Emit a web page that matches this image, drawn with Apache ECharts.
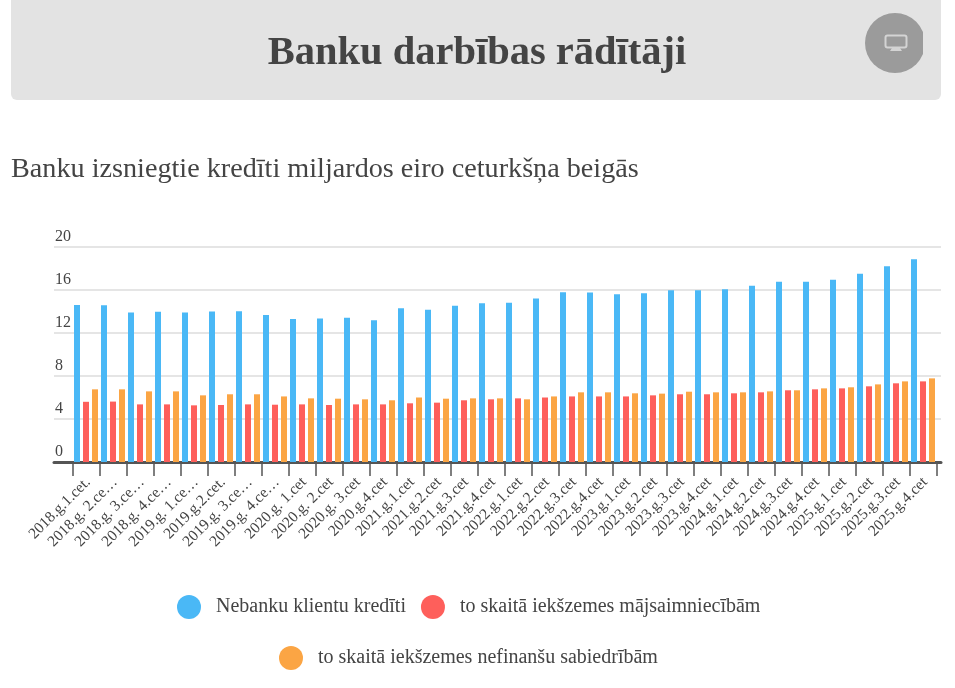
<!DOCTYPE html>
<html>
<head>
<meta charset="utf-8">
<style>
  html, body { margin: 0; padding: 0; background: #fff; }
  #chart { width: 955px; height: 688px; }
</style>
<script src="https://cdn.jsdelivr.net/npm/echarts@6/dist/echarts.min.js"></script>
</head>
<body>
<div id="chart"></div>
<script>
const pageTitle = "Banku darbības rādītāji";
const chartTitle = "Banku izsniegtie kredīti miljardos eiro ceturkšņa beigās";

const categories = [
  "2018.g.1.cet.", "2018.g. 2.ce…", "2018.g. 3.ce…", "2018.g. 4.ce…",
  "2019.g. 1.ce…", "2019.g.2.cet.", "2019.g. 3.ce…", "2019.g. 4.ce…",
  "2020.g. 1.cet", "2020.g. 2.cet", "2020.g. 3.cet", "2020.g.4.cet",
  "2021.g.1.cet", "2021.g.2.cet", "2021.g.3.cet", "2021.g.4.cet",
  "2022.g.1.cet", "2022.g.2.cet", "2022.g.3.cet", "2022.g.4.cet",
  "2023.g.1.cet", "2023.g.2.cet", "2023.g.3.cet", "2023.g.4.cet",
  "2024.g.1.cet", "2024.g.2.cet", "2024.g.3.cet", "2024.g.4.cet",
  "2025.g.1.cet", "2025.g.2.cet", "2025.g.3.cet", "2025.g.4.cet"
];
const clientLoans = [
  14.6, 14.57, 13.9, 13.98, 13.9, 14.0, 14.02, 13.67,
  13.3, 13.36, 13.43, 13.18, 14.3, 14.17, 14.54, 14.76,
  14.82, 15.22, 15.78, 15.76, 15.6, 15.69, 15.97, 15.97,
  16.06, 16.4, 16.77, 16.77, 16.96, 17.52, 18.2, 18.85
];
const householdLoans = [
  5.6, 5.62, 5.36, 5.36, 5.27, 5.3, 5.36, 5.33,
  5.36, 5.3, 5.36, 5.36, 5.46, 5.52, 5.74, 5.83,
  5.92, 6.0, 6.1, 6.1, 6.1, 6.2, 6.3, 6.3,
  6.39, 6.48, 6.67, 6.76, 6.85, 7.04, 7.32, 7.5
];
const companyLoans = [
  6.76, 6.76, 6.57, 6.57, 6.2, 6.3, 6.3, 6.1,
  5.92, 5.89, 5.83, 5.74, 6.0, 5.89, 5.92, 5.92,
  5.83, 6.1, 6.48, 6.48, 6.39, 6.36, 6.54, 6.48,
  6.48, 6.57, 6.67, 6.85, 6.95, 7.22, 7.5, 7.78
];
const seriesNames = [
  "Nebanku klientu kredīti",
  "to skaitā iekšzemes mājsaimniecībām",
  "to skaitā iekšzemes nefinanšu sabiedrībām"
];

const serif = '"Liberation Serif", serif';
const textColor = "#444";

const chart = echarts.init(document.getElementById("chart"), null, { renderer: "canvas" });

function barSeries(name, values, color) {
  return {
    name: name,
    type: "bar",
    xAxisIndex: 0,
    yAxisIndex: 0,
    data: values,
    barWidth: 6,
    barGap: "50%",
    itemStyle: { color: color },
    z: 3,
    animation: false
  };
}

chart.setOption({
  animation: false,
  backgroundColor: "#fff",
  textStyle: { fontFamily: serif, color: textColor },
  title: [
    {
      text: pageTitle,
      left: 472,
      top: 28,
      textAlign: "center",
      textStyle: { fontFamily: serif, fontSize: 40.5, fontWeight: "bold", color: "#444" }
    },
    {
      text: chartTitle,
      left: 6,
      top: 151,
      textStyle: { fontFamily: serif, fontSize: 28.2, fontWeight: "normal", color: "#444" }
    }
  ],
  graphic: [
    { type: "rect", shape: { x: 11, y: -10, width: 930, height: 110, r: 6 }, style: { fill: "#e3e3e3" }, z: -1 },
    { type: "circle", shape: { cx: 895, cy: 43, r: 30 }, style: { fill: "#9b9b9b" }, z: 0 },
    { type: "rect", shape: { x: 923, y: 0, width: 10, height: 90 }, style: { fill: "#e3e3e3" }, z: 0 },
    { type: "rect", shape: { x: 885.5, y: 35.5, width: 21, height: 12, r: 2 }, style: { fill: "none", stroke: "#d4d4d4", lineWidth: 2 }, z: 1 },
    { type: "polygon", shape: { points: [[892, 48], [900, 48], [902, 51], [890, 51]] }, style: { fill: "#d4d4d4" }, z: 1 }
  ],
  legend: [
    {
      data: seriesNames.slice(0, 2),
      left: 172,
      top: 590,
      itemWidth: 24,
      itemHeight: 24,
      itemGap: 15,
      icon: "circle",
      textStyle: { fontFamily: serif, fontSize: 20, color: textColor, padding: [0, 0, 0, 10] }
    },
    {
      data: seriesNames.slice(2),
      left: 274,
      top: 641,
      itemWidth: 24,
      itemHeight: 24,
      icon: "circle",
      textStyle: { fontFamily: serif, fontSize: 20, color: textColor, padding: [0, 0, 0, 10] }
    }
  ],
  grid: [
    { left: 72.5, width: 864, top: 247, height: 215 },
    { left: 54, width: 887, top: 247, height: 215 }
  ],
  xAxis: [
    {
      type: "category",
      gridIndex: 0,
      data: categories,
      axisLine: { show: false },
      axisTick: { show: true, length: 14, alignWithLabel: false, lineStyle: { color: "#555", width: 1.5 } },
      axisLabel: {
        interval: 0,
        rotate: 45,
        margin: 20,
        padding: [0, -3, 0, 0],
        fontFamily: serif,
        fontSize: 15.5,
        color: textColor
      }
    },
    {
      type: "value",
      gridIndex: 1,
      min: 0,
      max: 1,
      axisLine: { show: true, onZero: false, lineStyle: { color: "#555", width: 3 } },
      axisTick: { show: false },
      axisLabel: { show: false },
      splitLine: { show: false }
    }
  ],
  yAxis: [
    { type: "value", gridIndex: 0, min: 0, max: 20, interval: 4, show: false },
    {
      type: "value",
      gridIndex: 1,
      min: 0,
      max: 20,
      interval: 4,
      axisLine: { show: false },
      axisTick: { show: false },
      splitLine: { show: true, lineStyle: { color: "#ddd", width: 1.5 } },
      axisLabel: {
        inside: true,
        margin: 1,
        verticalAlign: "bottom",
        padding: [0, 0, 2, 0],
        fontFamily: serif,
        fontSize: 16,
        color: textColor
      }
    }
  ],
  series: [
    barSeries(seriesNames[0], clientLoans, "#4ab8f6"),
    barSeries(seriesNames[1], householdLoans, "#fe5f5b"),
    barSeries(seriesNames[2], companyLoans, "#fba544")
  ]
});

window.addEventListener("resize", function () {
  chart.resize();
});
</script>
</body>
</html>
